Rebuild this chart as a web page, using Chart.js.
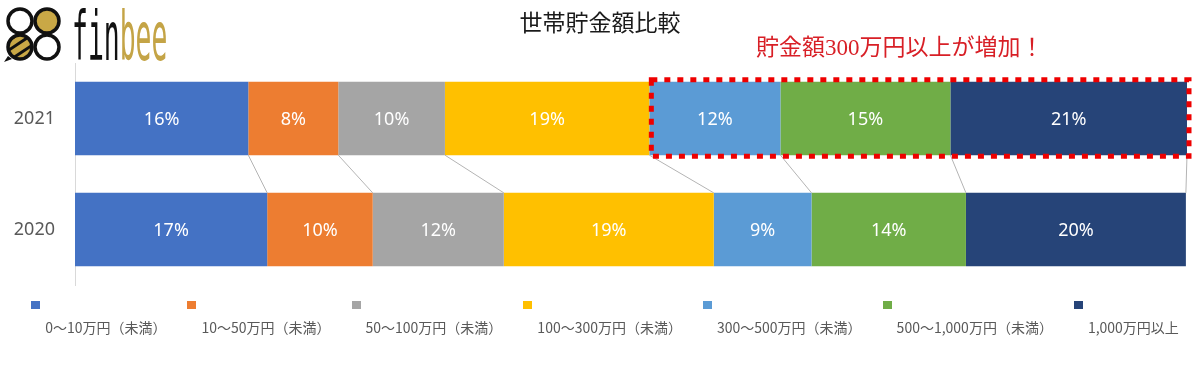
<!DOCTYPE html>
<html lang="ja">
<head>
<meta charset="utf-8">
<script src="https://cdn.jsdelivr.net/npm/chart.js@4.4.1/dist/chart.umd.min.js"></script>
<style>
  html, body { margin: 0; padding: 0; background: #fff; }
  #wrap { position: relative; width: 1200px; height: 366px; overflow: hidden; }
  #chart { position: absolute; left: 0; top: 0; }
  #logo { position: absolute; left: 0; top: 0; }
  .title {
    position: absolute; left: 0; width: 1200px; top: 10px;
    text-align: center; font: 23px/23px "Noto Sans CJK JP"; color: #1a1a1a;
  }
  .note {
    position: absolute; left: 756px; top: 36px;
    font: 23px/23px "Liberation Serif", "Noto Sans CJK JP"; color: #d81f26;
  }
</style>
</head>
<body>
<div id="wrap">
  <canvas id="chart" width="1200" height="366"></canvas>
  <svg id="logo" width="180" height="70">
    <defs>
      <clipPath id="beeClip"><circle cx="20" cy="47" r="11"/></clipPath>
    </defs>
    <g stroke="#111" stroke-width="3.5">
      <circle cx="20" cy="21" r="12" fill="#fff"/>
      <circle cx="47" cy="21" r="12" fill="#c9a846"/>
      <circle cx="20" cy="47" r="12" fill="#c9a846"/>
      <circle cx="47" cy="47" r="12" fill="#fff"/>
    </g>
    <g clip-path="url(#beeClip)" stroke="#111" stroke-width="3">
      <line x1="4" y1="44" x2="24" y2="30"/>
      <line x1="6" y1="52" x2="30" y2="36"/>
      <line x1="10" y1="60" x2="34" y2="44"/>
    </g>
    <path d="M8 56 L4 62 L12 59 Z" fill="#111"/>
    <text transform="translate(72,60) scale(0.44,1.12)" font-family="DejaVu Sans Mono" font-size="60"><tspan fill="#111">fin</tspan><tspan fill="#c4a446">bee</tspan></text>
  </svg>
  <div class="title">世帯貯金額比較</div>
  <div class="note">貯金額300万円以上が増加！</div>
</div>
<script>
// data
const years = ['2021', '2020'];
const bracketLabels = [
  '0～10万円（未満）', '10～50万円（未満）', '50～100万円（未満）',
  '100～300万円（未満）', '300～500万円（未満）', '500～1,000万円（未満）', '1,000万円以上'
];
// bar shares
const share2021 = [15.6, 8.1, 9.6, 18.4, 11.8, 15.3, 21.3];
const share2020 = [17.3, 9.5, 11.8, 18.9, 8.8, 13.9, 19.8];
// percentages printed in the bars
const label2021 = [16, 8, 10, 19, 12, 15, 21];
const label2020 = [17, 10, 12, 19, 9, 14, 20];
const bracketColors = ['#4472c4', '#ed7d31', '#a5a5a5', '#ffc000', '#5b9bd5', '#70ad47', '#264478'];

// boxed brackets in 2021 (300万円以上)
const HIGHLIGHT_FROM = 4;

const sum = arr => arr.reduce((a, b) => a + b, 0);
const xMax = Math.max(sum(share2021), sum(share2020));
const printed = [label2021, label2020];

// percent labels inside bars
const barLabels = {
  id: 'barLabels',
  afterDatasetsDraw(chart) {
    const ctx = chart.ctx;
    ctx.save();
    ctx.font = '18px "Noto Sans"';
    ctx.fillStyle = '#fff';
    ctx.textAlign = 'center';
    ctx.textBaseline = 'middle';
    chart.data.datasets.forEach((ds, i) => {
      chart.getDatasetMeta(i).data.forEach((bar, j) => {
        ctx.fillText(printed[j][i] + '%', (bar.x + bar.base) / 2, bar.y + 1);
      });
    });
    ctx.restore();
  }
};

// thin grey lines joining segment boundaries of the two bars
const connectors = {
  id: 'connectors',
  afterDatasetsDraw(chart) {
    const ctx = chart.ctx;
    ctx.save();
    ctx.strokeStyle = '#b4b4b4';
    ctx.lineWidth = 1;
    chart.data.datasets.forEach((ds, i) => {
      const [top, bottom] = chart.getDatasetMeta(i).data;
      ctx.beginPath();
      ctx.moveTo(top.x, top.y + top.height / 2);
      ctx.lineTo(bottom.x, bottom.y - bottom.height / 2);
      ctx.stroke();
    });
    ctx.restore();
  }
};

// red dotted frame round the 300万円以上 part of 2021
const highlight = {
  id: 'highlight',
  afterDatasetsDraw(chart) {
    const last = chart.data.datasets.length - 1;
    const first = chart.getDatasetMeta(HIGHLIGHT_FROM).data[0];
    const end = chart.getDatasetMeta(last).data[0];
    const ctx = chart.ctx;
    ctx.save();
    ctx.strokeStyle = '#ee0000';
    ctx.lineWidth = 5;
    ctx.setLineDash([6, 7]);
    const l = first.base + 2, r = end.x + 2;
    const t = first.y - first.height / 2 - 2, b = first.y + first.height / 2 + 1;
    ctx.strokeRect(l, t, r - l, b - t);
    ctx.restore();
  }
};

// legend: square on one row, text on the next
const legendRow = {
  id: 'legendRow',
  afterDraw(chart) {
    const ctx = chart.ctx;
    ctx.save();
    ctx.font = '14px "Noto Sans CJK JP"';
    const widths = chart.data.datasets.map(ds => ctx.measureText(ds.label).width);
    const total = widths.reduce((a, w) => a + 14 + w + 21, 0) - 21;
    let x = chart.width / 2 + 5 - total / 2;
    ctx.textBaseline = 'middle';
    chart.data.datasets.forEach((ds, i) => {
      ctx.fillStyle = ds.backgroundColor;
      ctx.fillRect(Math.round(x), 301, 9, 8);
      ctx.fillStyle = '#595959';
      ctx.fillText(ds.label, x + 14, 328);
      x += 14 + widths[i] + 21;
    });
    ctx.restore();
  }
};

new Chart(document.getElementById('chart'), {
  type: 'bar',
  data: {
    labels: years,
    datasets: bracketLabels.map((label, i) => ({
      label,
      data: [share2021[i], share2020[i]],
      backgroundColor: bracketColors[i],
      borderWidth: 0,
      barPercentage: 0.66,
      categoryPercentage: 1
    }))
  },
  options: {
    indexAxis: 'y',
    responsive: false,
    animation: false,
    layout: { padding: { top: 63, bottom: 81, left: 0, right: 13 } },
    scales: {
      x: { stacked: true, min: 0, max: xMax, display: false },
      y: {
        stacked: true,
        grid: { display: true, drawOnChartArea: false, drawTicks: false },
        border: { display: true, color: '#d9d9d9', width: 1 },
        ticks: { color: '#595959', font: { family: 'Noto Sans', size: 18 }, padding: 20 },
        afterFit(scale) { scale.width = 75; }
      }
    },
    plugins: {
      legend: { display: false },
      title: { display: false },
      tooltip: { enabled: false }
    }
  },
  plugins: [barLabels, connectors, highlight, legendRow]
});
</script>
</body>
</html>
